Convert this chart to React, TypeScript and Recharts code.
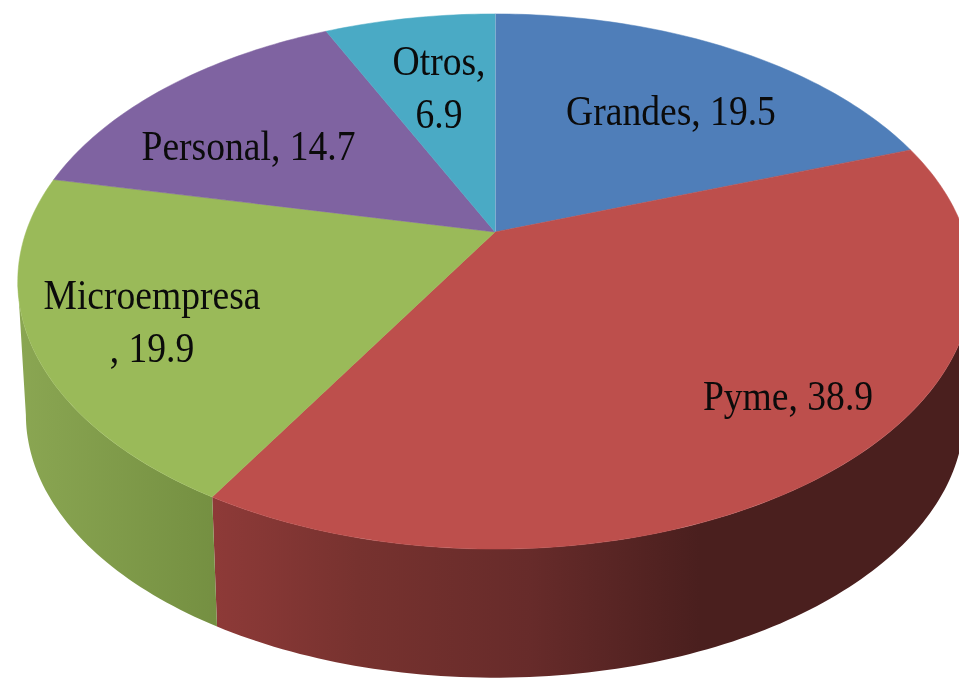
import { Pie, PieChart } from "recharts";

const categories = ["Grandes", "Pyme", "Microempresa", "Personal", "Otros"];
const shares = [19.5, 38.9, 19.9, 14.7, 6.9];
const topColors = ["#4f7eb9", "#bd4f4c", "#9aba59", "#7f63a1", "#4aaac5"];
const wallColors = ["#3a5c88", "url(#wallRed)", "url(#wallGreen)", "#5d4876", "#357d90"];
// where a label wraps: characters kept on its first line (0 = no wrap)
const labelWraps = [0, 0, 12, 0, 6];

const WIDTH = 959;
const HEIGHT = 679;
const CX = 495;
const CY = 232;
const RADIUS = 469;

// perspective of the tilted disc
const TILT = 0.185;
const SQUASH = 0.551;
const WALL_DROP = 134;
const WALL_SCALE = 0.983;
// angle past which the side wall turns away from the viewer
const SILHOUETTE = (Math.asin(TILT) * 180) / Math.PI;

const labelAnchors = [
  { x: 671, y: 125 },
  { x: 788, y: 410 },
  { x: 152, y: 309 },
  { x: 248.5, y: 160 },
  { x: 439, y: 75 },
];

const tableData = categories.map((name, i) => ({
  name,
  value: shares[i],
  fill: topColors[i],
  wallFill: wallColors[i],
}));

function project(cx: number, cy: number, r: number, deg: number) {
  const a = (deg * Math.PI) / 180;
  const w = 1 + TILT * Math.sin(a);
  return [cx + (r * Math.cos(a)) / w, cy - (r * SQUASH * Math.sin(a)) / w];
}

function rim(cx: number, cy: number, r: number, from: number, to: number) {
  const steps = Math.max(8, Math.ceil(Math.abs(to - from)));
  const pts: number[][] = [];
  for (let i = 0; i <= steps; i++) {
    pts.push(project(cx, cy, r, from + ((to - from) * i) / steps));
  }
  return pts;
}

const toPath = (pts: number[][]) =>
  "M" + pts.map((p) => `${p[0].toFixed(2)},${p[1].toFixed(2)}`).join("L") + "Z";

function TopSlice(props: any) {
  const { cx, cy, outerRadius, startAngle, endAngle, fill } = props;
  const edge = rim(cx, cy, outerRadius, startAngle, endAngle);
  return (
    <g>
      <path d={toPath([[cx, cy], ...edge])} fill={fill} stroke={fill} strokeWidth={0.5} />
      {startAngle === 90 && (
        <line x1={cx} y1={cy} x2={edge[0][0]} y2={edge[0][1]} stroke="#d5e4ee" strokeWidth={1} />
      )}
    </g>
  );
}

function WallSlice(props: any) {
  const { cx, cy, outerRadius, startAngle, endAngle } = props;
  const wallFill = props.wallFill ?? props.payload?.wallFill;
  // only the front of the disc shows a wall (angles run clockwise from 90 to -270)
  const from = Math.min(startAngle, -SILHOUETTE);
  const to = Math.max(endAngle, -180 + SILHOUETTE);
  if (from <= to) return null;
  const upper = rim(cx, cy, outerRadius, from, to);
  const lower = rim(cx, cy + WALL_DROP, outerRadius * WALL_SCALE, to, from);
  return <path d={toPath([...upper, ...lower])} fill={wallFill} />;
}

function SliceLabel(props: any) {
  const i = props.index;
  const anchor = labelAnchors[i];
  const text = `${categories[i]}, ${shares[i]}`;
  const wrap = labelWraps[i];
  const lines = wrap ? [text.slice(0, wrap), text.slice(wrap).trim()] : [text];
  return (
    <g transform={`translate(${anchor.x} ${anchor.y}) scale(0.895 1)`}>
      {lines.map((line, n) => (
        <text
          key={n}
          x={0}
          y={n * 53}
          textAnchor="middle"
          fontFamily="'Liberation Serif', serif"
          fontSize={42}
          fill="#0b0b0b"
        >
          {line}
        </text>
      ))}
    </g>
  );
}

export default function App() {
  return (
    <div
      style={{
        position: "absolute",
        left: 0,
        top: 0,
        width: WIDTH,
        height: HEIGHT,
        overflow: "hidden",
        background: "#fff",
      }}
    >
      <div style={{ filter: "blur(0.6px)" }}>
        <PieChart width={WIDTH} height={HEIGHT} margin={{ top: 0, right: 0, bottom: 0, left: 0 }}>
          <defs>
            <linearGradient id="wallRed" gradientUnits="userSpaceOnUse" x1={212} y1={0} x2={700} y2={0}>
              <stop offset="0" stopColor="#8e3a38" />
              <stop offset="0.3" stopColor="#77322f" />
              <stop offset="0.65" stopColor="#672b2a" />
              <stop offset="1" stopColor="#4a1f1e" />
            </linearGradient>
            <linearGradient id="wallGreen" gradientUnits="userSpaceOnUse" x1={20} y1={0} x2={220} y2={0}>
              <stop offset="0" stopColor="#8aa652" />
              <stop offset="1" stopColor="#748f41" />
            </linearGradient>
          </defs>
          <Pie
            data={tableData}
            dataKey="value"
            nameKey="name"
            cx={CX}
            cy={CY}
            innerRadius={0}
            outerRadius={RADIUS}
            startAngle={90}
            endAngle={-270}
            stroke="none"
            shape={WallSlice}
            isAnimationActive={false}
          />
          <Pie
            data={tableData}
            dataKey="value"
            nameKey="name"
            cx={CX}
            cy={CY}
            innerRadius={0}
            outerRadius={RADIUS}
            startAngle={90}
            endAngle={-270}
            stroke="none"
            shape={TopSlice}
            label={SliceLabel}
            labelLine={false}
            isAnimationActive={false}
          />
        </PieChart>
      </div>
    </div>
  );
}
